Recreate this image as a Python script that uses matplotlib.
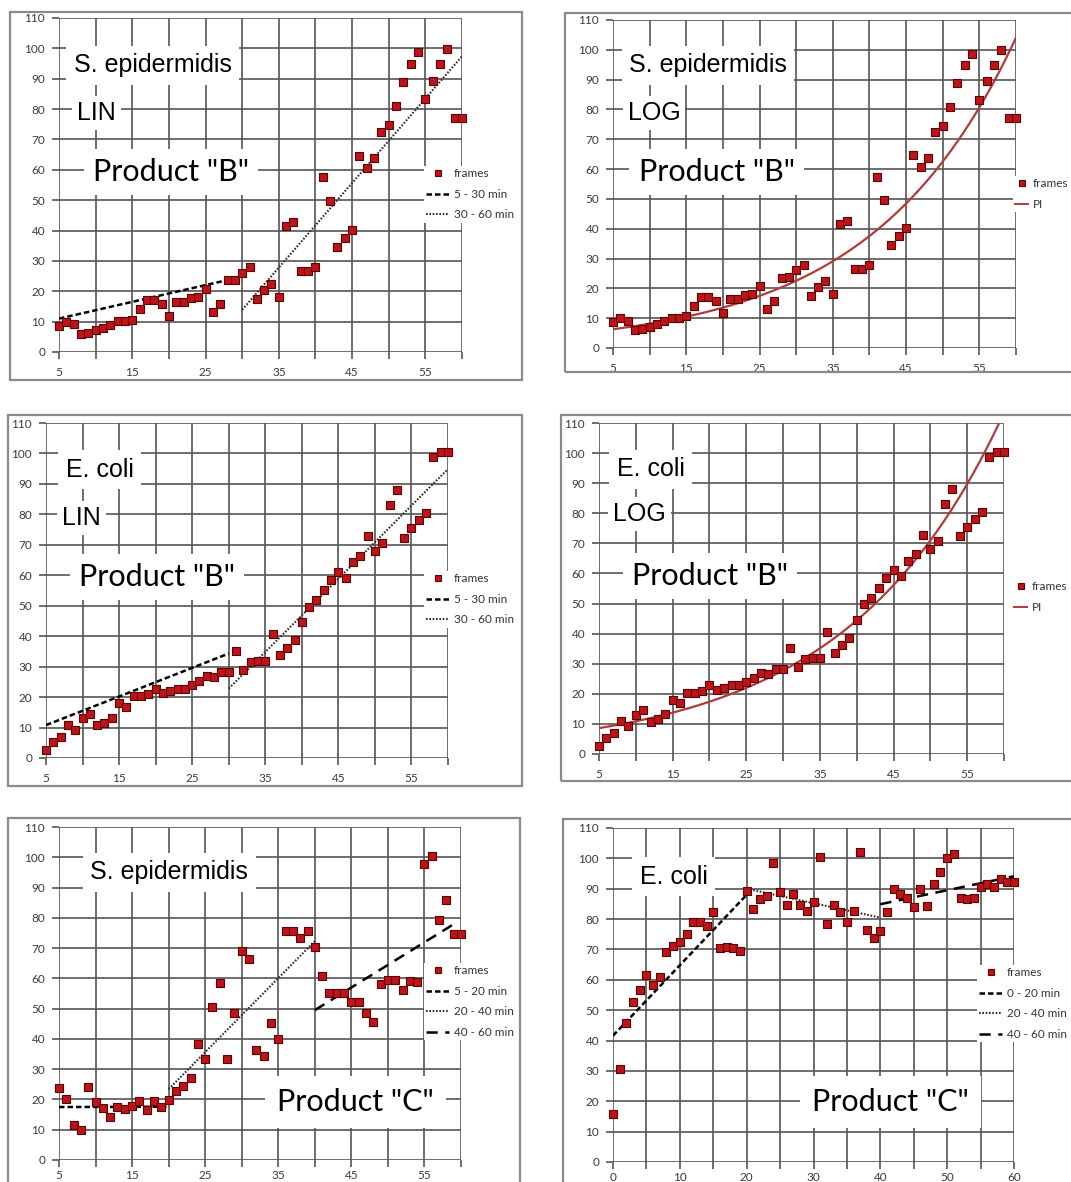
import numpy as np
import matplotlib.pyplot as plt
from matplotlib.patches import Rectangle
from matplotlib.lines import Line2D

W, H = 1071, 1182
DPI = 100

MARKER_FACE = '#bb1419'
MARKER_EDGE = '#620000'
GRID = '#555555'
PI_COLOR = '#b33a3a'
TICK_FONT = 'Lato'
LABEL_FONT = 'Liberation Sans'

# ---------------------------------------------------------------------------
# data: frames counted per minute
# ---------------------------------------------------------------------------
minutes_b = list(range(5, 61))
minutes_c_sepi = list(range(5, 61))
minutes_c_ecoli = list(range(0, 61))

sepi_b = [8.7, 9.9, 9.2, 6.0, 6.3, 7.1, 7.9, 9.0, 10.1, 10.1,
          10.6, 14.2, 17.2, 17.2, 15.9, 11.7, 16.4, 16.4, 17.7, 18.1,
          20.7, 13.2, 15.9, 23.6, 23.8, 26.0, 28.0, 17.6, 20.5, 22.5,
          18.1, 41.6, 42.7, 26.6, 26.6, 27.9, 57.5, 49.6, 34.7, 37.7,
          40.3, 64.7, 60.6, 63.8, 72.6, 74.6, 80.9, 88.8, 94.8, 98.7,
          83.3, 89.4, 94.8, 99.9, 77.1, 77.1]

ecoli_b = [2.5, 5.3, 6.9, 10.9, 9.3, 13.1, 14.6, 10.7, 11.5, 13.2,
           17.9, 16.8, 20.3, 20.4, 20.9, 22.8, 21.2, 22.0, 22.8, 22.8,
           23.9, 25.3, 26.9, 26.6, 28.2, 28.2, 35.2, 28.8, 31.5, 31.8,
           31.9, 40.7, 33.7, 36.2, 38.7, 44.5, 49.7, 51.9, 55.1, 58.5,
           61.1, 59.2, 64.2, 66.4, 72.9, 68.1, 70.7, 83.2, 88.1, 72.3,
           75.6, 78.0, 80.4, 98.7, 100.4, 100.4]

sepi_c = [23.9, 20.0, 11.6, 10.0, 24.0, 19.3, 17.1, 14.3, 17.4, 16.8,
          17.9, 19.6, 16.5, 19.6, 17.4, 19.8, 22.9, 24.5, 27.2, 38.3,
          33.2, 50.6, 58.6, 33.2, 48.6, 69.0, 66.4, 36.2, 34.4, 45.4,
          39.9, 75.7, 75.7, 73.2, 75.6, 70.4, 60.8, 55.3, 55.3, 55.3,
          52.3, 52.3, 48.7, 45.7, 58.1, 59.6, 59.4, 56.3, 59.2, 58.9,
          97.7, 100.3, 79.4, 85.8, 74.5, 74.5]

ecoli_c = [15.7, 30.6, 45.7, 52.7, 56.5, 61.6, 58.2, 60.8, 69.0, 71.2,
           72.4, 75.0, 78.9, 78.9, 77.8, 82.3, 70.6, 70.8, 70.6, 69.6,
           89.4, 83.3, 86.5, 87.7, 98.6, 88.9, 84.5, 88.2, 84.5, 82.6,
           85.6, 100.3, 78.3, 84.5, 82.5, 79.2, 82.8, 102.1, 76.3, 73.8,
           76.1, 82.2, 89.8, 88.4, 87.1, 83.9, 89.8, 84.4, 91.6, 95.6,
           100.1, 101.4, 86.8, 86.6, 87.1, 90.6, 91.5, 90.6, 93.1, 92.1,
           92.1]

# linear trend segments: (t_start, y_start, t_end, y_end)
sepi_b_lin = [(5, 11.0, 30, 24.8), (30, 13.9, 60, 97.4)]
ecoli_b_lin = [(5, 10.8, 30, 34.3), (30, 22.8, 60, 94.9)]
sepi_c_lin = [(5, 17.5, 20, 17.6), (20, 23.4, 40, 72.3), (40, 49.5, 59.2, 78.2)]
ecoli_c_lin = [(0, 41.6, 20, 88.0), (20, 90.0, 40, 80.5), (40, 84.9, 60, 94.1)]

# exponential trend "PI": y = a * exp(b * (t - 5))
sepi_b_pi = (6.3, 0.051)
ecoli_b_pi = (8.6, 0.0469)

legend_b = ['frames', '5 - 30 min', '30 - 60 min']
legend_log = ['frames', 'PI']
legend_sepi_c = ['frames', '5 - 20 min', '20 - 40 min', '40 - 60 min']
legend_ecoli_c = ['frames', '0 - 20 min', '20 - 40 min', '40 - 60 min']

# line styles for the trend segments
SEG_STYLES = [dict(color='black', lw=1.8, dashes=(2.2, 1.2)),
              dict(color='#2e2e2e', lw=1.5, dashes=(0.8, 0.8)),
              dict(color='black', lw=1.8, dashes=(4.5, 3.0))]

fig = plt.figure(figsize=(W / DPI, H / DPI), dpi=DPI)
fig.patch.set_facecolor('white')


def px_axes(x0, x1, ytop, ybot):
    return fig.add_axes([x0 / W, 1 - ybot / H, (x1 - x0) / W, (ybot - ytop) / H])


def frame(x0, y0, x1, y1):
    fig.add_artist(Rectangle((x0 / W, 1 - y1 / H), (x1 - x0) / W, (y1 - y0) / H,
                             transform=fig.transFigure, fill=False,
                             edgecolor='#8a8a8a', lw=1.6))


def style(ax, xmin, xmax, label_start, xpad=6):
    ax.set_xlim(xmin, xmax)
    ax.set_ylim(0, 110)
    ticks = np.arange(xmin, xmax + 1, 5)
    ax.set_xticks(ticks)
    ax.set_xticklabels([str(t) if (t - label_start) % 10 == 0 else '' for t in ticks])
    ax.set_yticks(np.arange(0, 111, 10))
    ax.grid(True, color=GRID, lw=1.2)
    ax.set_axisbelow(True)
    for s in ax.spines.values():
        s.set_visible(False)
    ax.tick_params(direction='out', length=5, width=1.2, color=GRID,
                   labelsize=8.5, labelcolor='#3a3a3a', pad=5)
    ax.tick_params(axis='x', pad=xpad)
    for lab in ax.get_xticklabels() + ax.get_yticklabels():
        lab.set_fontfamily(TICK_FONT)


def scatter(ax, t, y):
    ax.scatter(t, y, marker='s', s=26, facecolor=MARKER_FACE,
               edgecolor=MARKER_EDGE, linewidth=0.8, zorder=3, clip_on=False)


def segments(ax, segs):
    for (t0, y0, t1, y1), st in zip(segs, SEG_STYLES):
        ax.plot([t0, t1], [y0, y1], zorder=2.5, **st)


def pi_curve(ax, coef):
    a, b = coef
    t = np.linspace(5, 60, 200)
    ax.plot(t, a * np.exp(b * (t - 5)), color=PI_COLOR, lw=1.6, zorder=2.5)


def label(ax, x, y, text, size, family, pad=0.2):
    ax.text(x, y, text, fontsize=size, family=family, va='center', ha='left',
            zorder=4, bbox=dict(boxstyle=f'square,pad={pad}',
                                facecolor='white', edgecolor='none'))


def legend(ax, names, x, y, kinds):
    handles = [Line2D([], [], marker='s', ls='none', mfc=MARKER_FACE,
                      mec=MARKER_EDGE, ms=5, mew=0.8)]
    if kinds == 'pi':
        handles.append(Line2D([], [], color=PI_COLOR, lw=1.4))
    else:
        for st in SEG_STYLES[:len(names) - 1]:
            handles.append(Line2D([], [], **st))
    leg = ax.legend(handles, names, loc='upper left',
                    bbox_to_anchor=(x / W, 1 - y / H),
                    bbox_transform=fig.transFigure,
                    prop={'family': TICK_FONT, 'size': 8.5},
                    handlelength=1.9 if kinds != 'pi' else 1.1,
                    handletextpad=0.4, labelspacing=0.8, borderpad=0.2,
                    borderaxespad=0, frameon=True, fancybox=False,
                    facecolor='white', edgecolor='none', framealpha=1)
    for txt in leg.get_texts():
        txt.set_color('#333333')
    leg.set_zorder(5)


# top left: S. epidermidis, linear segments
frame(10, 12, 522, 380)
ax1 = px_axes(59, 462, 18, 352)
style(ax1, 5, 60, 5)
segments(ax1, sepi_b_lin)
scatter(ax1, minutes_b, sepi_b)
label(ax1, 7.0, 94.5, 'S. epidermidis', 18, LABEL_FONT, 0.3)
label(ax1, 7.5, 78.7, 'LIN', 18, LABEL_FONT)
label(ax1, 9.6, 59.2, 'Product "B"', 22, TICK_FONT, 0.3)
legend(ax1, legend_b, 424, 166, 'lin')

# top right: S. epidermidis, exponential fit
frame(565, 13, 1085, 372)
ax2 = px_axes(613, 1016, 20, 348)
style(ax2, 5, 60, 5)
pi_curve(ax2, sepi_b_pi)
scatter(ax2, minutes_b, sepi_b)
label(ax2, 7.2, 94.9, 'S. epidermidis', 18, LABEL_FONT, 0.3)
label(ax2, 7.0, 78.8, 'LOG', 18, LABEL_FONT)
label(ax2, 8.5, 59.0, 'Product "B"', 22, TICK_FONT, 0.3)
legend(ax2, legend_log, 1013, 176, 'pi')

# middle left: E. coli, linear segments
frame(8, 415, 522, 786)
ax3 = px_axes(46, 448, 423, 758)
style(ax3, 5, 60, 5)
segments(ax3, ecoli_b_lin)
scatter(ax3, minutes_b, ecoli_b)
label(ax3, 7.7, 94.6, 'E. coli', 18, LABEL_FONT, 0.3)
label(ax3, 7.2, 78.8, 'LIN', 18, LABEL_FONT)
label(ax3, 9.5, 59.4, 'Product "B"', 22, TICK_FONT, 0.3)
legend(ax3, legend_b, 424, 571, 'lin')

# middle right: E. coli, exponential fit
frame(561, 415, 1085, 781)
ax4 = px_axes(599, 1004, 423, 754)
style(ax4, 5, 60, 5)
pi_curve(ax4, ecoli_b_pi)
scatter(ax4, minutes_b, ecoli_b)
label(ax4, 7.4, 94.7, 'E. coli', 18, LABEL_FONT, 0.3)
label(ax4, 6.9, 79.8, 'LOG', 18, LABEL_FONT)
label(ax4, 9.5, 59.2, 'Product "B"', 22, TICK_FONT, 0.3)
legend(ax4, legend_log, 1012, 579, 'pi')

# bottom left: S. epidermidis, product "C"
frame(8, 818, 520, 1195)
ax5 = px_axes(59, 461, 827, 1160)
style(ax5, 5, 60, 5, xpad=2)
segments(ax5, sepi_c_lin)
scatter(ax5, minutes_c_sepi, sepi_c)
label(ax5, 9.3, 95.1, 'S. epidermidis', 18, LABEL_FONT, 0.3)
label(ax5, 34.8, 19.2, 'Product "C"', 22, TICK_FONT, 0.4)
legend(ax5, legend_sepi_c, 424, 963, 'lin')

# bottom right: E. coli, product "C"
frame(563, 819, 1085, 1195)
ax6 = px_axes(613, 1014, 828, 1162)
style(ax6, 0, 60, 0, xpad=2)
segments(ax6, ecoli_c_lin)
scatter(ax6, minutes_c_ecoli, ecoli_c)
label(ax6, 4.0, 93.9, 'E. coli', 18, LABEL_FONT, 0.3)
label(ax6, 29.8, 19.8, 'Product "C"', 22, TICK_FONT, 0.4)
legend(ax6, legend_ecoli_c, 977, 965, 'lin')

fig.savefig('out.png', dpi=DPI)
